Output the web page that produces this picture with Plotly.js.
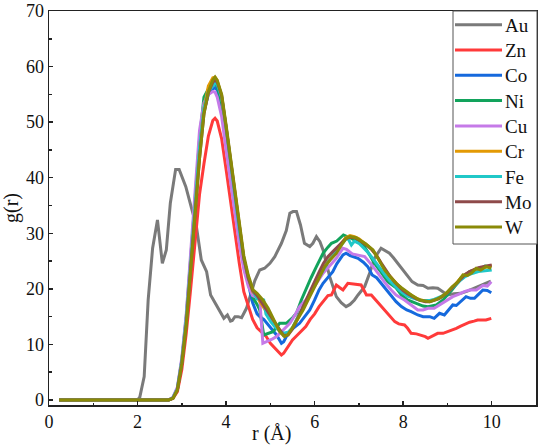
<!DOCTYPE html>
<html>
<head>
<meta charset="utf-8">
<script src="https://cdn.plot.ly/plotly-3.0.1.min.js"></script>
<style>html,body{margin:0;padding:0;background:#fff;}#chart{width:550px;height:446px;}</style>
</head>
<body>
<div id="chart"></div>
<script>
// Series names
const seriesNames = ["Au","Zn","Co","Ni","Cu","Cr","Fe","Mo","W"];

// Au
const r_Au = [0.25,2.0,2.05,2.15,2.24,2.34,2.45,2.56,2.65,2.74,2.86,2.94,3.09,3.22,3.33,3.44,3.56,3.65,3.78,3.87,3.95,4.03,4.1,4.14,4.2,4.27,4.35,4.46,4.55,4.65,4.76,4.87,4.99,5.1,5.25,5.36,5.44,5.51,5.59,5.68,5.77,5.89,5.96,6.04,6.12,6.19,6.34,6.49,6.6,6.71,6.8,6.9,6.98,7.13,7.25,7.35,7.5,7.6,7.69,7.78,7.88,8.0,8.1,8.2,8.33,8.45,8.56,8.67,8.78,8.9,9.0,9.15,9.3,9.45,9.6,9.8,9.98];
const g_Au = [0,0,0.5,4.2,18,27.3,32.4,24.6,27,35.4,41.5,41.5,38.4,34.2,31.2,25.2,23.1,18.9,17.1,16,14.7,15.3,14.2,14.3,15,15,14.8,16.5,19,21.5,23.4,23.7,24.6,25.8,28.2,30.5,33.6,33.9,33.9,31.5,28.2,27.6,28.2,29.4,28.5,27,22.2,18.6,17.5,16.8,17.2,18,18.9,20.4,23,25.5,27.3,26.8,26.4,25.6,24.6,23.3,22.2,21.3,20.7,20.6,20.1,20.2,20.1,19.4,18.9,19.1,19.2,19.6,20.1,20.8,21.4];

// First-peak grid shared by the alloys
const r_peak = [0.23,2.7,2.8,2.9,3.0,3.1,3.2,3.3,3.4,3.5,3.6,3.7,3.75,3.8,3.9,4.0,4.1,4.2,4.3,4.4,4.5];

// Zn
const g_Zn_peak = [0,0,0.3,1.5,5.5,12,20,28.5,37,42.5,47.5,50.3,50.7,50.2,47,41.5,35.5,30,24.5,19.5,17];
const r_Zn_tail = [4.6,4.7,4.8,4.9,5.0,5.1,5.2,5.25,5.3,5.4,5.5,5.6,5.7,5.8,5.9,6.0,6.1,6.2,6.3,6.38,6.49,6.57,6.64,6.75,6.9,7.05,7.17,7.28,7.4,7.5,7.58,7.7,7.81,7.9,8.03,8.1,8.18,8.3,8.41,8.5,8.56,8.7,8.78,8.9,9.0,9.1,9.2,9.3,9.42,9.5,9.6,9.68,9.8,9.87,9.99];
const g_Zn_tail = [14.5,13,12.3,11.5,10.2,9.3,8.5,8.1,8.4,9.5,10.8,11.6,12.4,13.2,14.5,15.5,16.8,17.8,18.8,18.9,20.7,20.2,19.8,21,20.9,20.7,18.9,18.9,17.8,16.9,16.2,15.2,14.1,13.7,13.5,12.9,12,11.9,11.7,11.4,11.1,11.6,12,12,12.3,12.5,12.9,13.3,13.8,14,14.2,14.4,14.4,14.4,14.7];

// Co
const g_Co_peak = [0,0,0.4,2,7,14.5,24.5,35,45,52,55,56,56.2,55.8,53,47.5,41.5,35.5,29.5,24.5,21];
const r_Co_tail = [4.6,4.7,4.76,4.85,4.95,5.05,5.14,5.25,5.3,5.4,5.5,5.66,5.8,5.89,6.0,6.1,6.19,6.3,6.41,6.5,6.64,6.71,6.8,6.98,7.1,7.2,7.3,7.4,7.5,7.6,7.73,7.84,7.96,8.08,8.18,8.33,8.45,8.6,8.7,8.82,8.93,9.12,9.2,9.3,9.42,9.52,9.61,9.7,9.8,9.9,9.99];
const g_Co_tail = [17.5,15.5,15,14.5,13.5,12.5,11.7,10.2,10.5,12,12.8,13.8,15.2,16.2,18,19.8,21,22,23.1,24.5,26.1,26.4,26,25.5,24.8,24,22.5,22,21,20,18.9,17.7,16.8,16.2,15.9,15.3,15,15,14.7,15.6,15.3,17.1,17,17.7,18.6,18.3,18.3,19,19.8,19.7,19.3];

// Ni
const g_Ni_peak = [0,0,0.4,2.1,7.2,15,25.5,36.5,47,54.5,56,56.8,57,56.5,53.5,48,42,36,30,25,21.5];
const r_Ni_tail = [4.6,4.7,4.76,4.85,4.95,5.06,5.21,5.36,5.5,5.59,5.7,5.81,5.92,6.04,6.19,6.3,6.38,6.5,6.65,6.8,6.95,7.1,7.25,7.35,7.5,7.65,7.84,7.96,8.1,8.29,8.45,8.56,8.75,8.9,8.97,9.1,9.27,9.4,9.5,9.61,9.75,9.85,9.99];
const g_Ni_tail = [18.5,17.2,16.2,11.7,12,12.3,13.8,13.8,14.8,15.6,18,20.1,22,24,26.4,27.5,28.2,28.6,29.7,29.2,28.5,27.9,26,24.6,23,21.3,20.2,18.9,18,17.4,16.9,16.8,17.1,18,18.6,19.8,21.5,22.5,23.1,23.4,23.6,24.1,24];

// Cu
const g_Cu_peak = [0,0,0.5,2.3,7.6,15.5,26.5,38,48.5,53.5,55,55.5,55.4,54.5,51,45,39,33.5,28,23.5,20.5];
const r_Cu_tail = [4.6,4.7,4.76,4.83,4.95,5.05,5.14,5.3,5.44,5.55,5.66,5.8,5.89,6.0,6.19,6.35,6.49,6.64,6.72,6.85,7.0,7.13,7.32,7.43,7.6,7.73,7.84,8.03,8.2,8.33,8.45,8.56,8.7,8.85,9.0,9.12,9.25,9.38,9.5,9.65,9.8,9.9,9.99];
const g_Cu_tail = [18.8,18.4,18.2,10.2,10.6,11,11.4,12.6,13.8,15.2,16.8,18,19.2,20.5,22.8,24.3,25.5,27.3,27.1,26.3,26.1,25.8,24,22.8,21,19.8,18.9,18,17,16.2,16.2,16.5,16.5,17.2,18,18.6,19,19.5,19.8,19.8,20.6,20.5,21.3];

// Cr
const g_Cr_peak = [0,0,0.3,1.9,6.8,14,24,34.5,45,52.5,56.5,58,58.1,57.5,54.5,49,43,37,31,25.5,22];
const r_Cr_tail = [4.6,4.7,4.8,4.9,5.0,5.1,5.2,5.3,5.4,5.5,5.6,5.7,5.8,5.9,6.0,6.1,6.2,6.3,6.4,6.5,6.6,6.7,6.8,6.9,7.0,7.1,7.2,7.3,7.4,7.5,7.6,7.7,7.8,7.9,8.0,8.1,8.2,8.3,8.4,8.5,8.6,8.7,8.8,8.9,9.0,9.1,9.2,9.3,9.4,9.5,9.6,9.7,9.8,9.9,10.0];
const g_Cr_tail = [19.5,18.5,17.2,16,15,13.5,12.5,11.8,12,13,14.6,16,17.8,19.4,21,22.4,23.8,25,26,27,28.2,29.2,29.6,29.4,29,28.4,27.8,27,26,24.6,23.3,22.3,21.3,20.5,19.8,19.2,18.8,18.3,18,17.8,17.8,18,18.3,18.8,19.4,20.2,21,22,22.6,23,23.4,23.6,23.8,24,24.2];

// Fe
const g_Fe_peak = [0,0,0.4,2,7,14.5,24.5,35,45.5,52.5,55.5,56.5,57,56.8,54.5,49,42.5,36.5,30.5,25.5,22];
const r_Fe_tail = [4.6,4.7,4.75,4.85,4.9,5.0,5.1,5.2,5.3,5.4,5.5,5.6,5.7,5.8,5.9,6.0,6.1,6.2,6.3,6.4,6.5,6.6,6.7,6.75,6.83,6.9,7.0,7.1,7.2,7.3,7.39,7.5,7.6,7.7,7.8,7.9,8.0,8.1,8.2,8.3,8.4,8.5,8.6,8.7,8.8,8.9,9.0,9.1,9.2,9.3,9.4,9.5,9.6,9.7,9.8,9.9,10.0];
const g_Fe_tail = [19.8,18.2,18.2,18,15.5,14.2,13.2,12.5,12,12.2,13,14.5,16,17.5,19.2,20.8,22.2,23.5,24.8,25.8,26.8,28,28.9,29.1,27.9,28.6,28.2,27.4,26.6,25.6,24.6,23.4,22.4,21.4,20.6,19.8,19.2,18.7,18.4,18.1,17.9,17.9,17.9,18.1,18.4,18.8,19.3,20,20.8,21.6,22.2,22.6,22.9,23.1,23.2,23.3,23.4];

// Mo
const g_Mo_peak = [0,0,0.3,1.8,6.5,13.5,23.5,33.5,43.5,51.5,55.3,57.2,57.6,57.2,54.8,49.2,43.2,37.5,31,25.5,22];
const r_Mo_tail = [4.6,4.7,4.8,4.9,5.0,5.1,5.2,5.3,5.4,5.5,5.6,5.7,5.8,5.9,6.0,6.1,6.2,6.3,6.4,6.5,6.6,6.7,6.8,6.9,7.0,7.1,7.2,7.3,7.4,7.5,7.6,7.7,7.8,7.9,8.0,8.1,8.2,8.3,8.4,8.5,8.6,8.7,8.8,8.9,9.0,9.1,9.2,9.3,9.4,9.5,9.6,9.7,9.8,9.9,10.0];
const g_Mo_tail = [19.7,18.8,17.6,16.4,15.2,13.8,12.6,11.6,11.7,12.8,14.4,16,17.8,19.6,21.4,23,24.6,25.8,26.6,27.4,28.3,29,29.3,29.2,28.8,28.3,27.7,27,26,24.7,23.4,22.3,21.3,20.4,19.7,19.1,18.6,18.2,17.9,17.7,17.7,17.9,18.2,18.7,19.3,20.1,21,21.9,22.6,23.1,23.5,23.8,24,24.2,24.3];

// W
const g_W_peak = [0,0,0.3,1.8,6.5,13.5,23.5,33.5,43.5,51.5,55.5,57.6,58.1,57.5,55,49.5,43.5,38,31.5,26,22.5];
const r_W_tail = [4.61,4.7,4.83,4.95,5.06,5.15,5.21,5.32,5.4,5.47,5.6,5.74,5.85,5.96,6.1,6.23,6.35,6.49,6.6,6.71,6.8,6.94,7.05,7.15,7.32,7.45,7.58,7.7,7.84,7.96,8.1,8.2,8.37,8.5,8.6,8.75,8.85,8.97,9.1,9.23,9.35,9.45,9.55,9.65,9.75,9.87,9.99];
const g_W_tail = [19.8,19.2,18,16.5,14.7,13.2,12.3,11.4,11.8,12.6,14.3,16.2,18,19.8,22,24,25.2,26.4,27.8,29.1,29.4,29.2,28.6,28.1,27,25.3,23.4,22.2,21,20.2,19.3,18.8,18,17.8,17.7,18.1,18.5,19.2,20.3,21.2,22.5,22.4,22.9,23.7,23.4,24,23.7];

const colors = {Au:"#7a7a7a", Zn:"#ff3a3a", Co:"#1569dd", Ni:"#12a35c", Cu:"#c57ae8", Cr:"#e39a05", Fe:"#20c8c8", Mo:"#8e4a4a", W:"#8a8a08"};

const seriesData = {
  Au: [r_Au, g_Au],
  Zn: [r_peak.concat(r_Zn_tail), g_Zn_peak.concat(g_Zn_tail)],
  Co: [r_peak.concat(r_Co_tail), g_Co_peak.concat(g_Co_tail)],
  Ni: [r_peak.concat(r_Ni_tail), g_Ni_peak.concat(g_Ni_tail)],
  Cu: [r_peak.concat(r_Cu_tail), g_Cu_peak.concat(g_Cu_tail)],
  Cr: [r_peak.concat(r_Cr_tail), g_Cr_peak.concat(g_Cr_tail)],
  Fe: [r_peak.concat(r_Fe_tail), g_Fe_peak.concat(g_Fe_tail)],
  Mo: [r_peak.concat(r_Mo_tail), g_Mo_peak.concat(g_Mo_tail)],
  W:  [r_peak.concat(r_W_tail), g_W_peak.concat(g_W_tail)]
};

const traces = seriesNames.map(n => ({
  type: "scatter", mode: "lines", name: n,
  x: seriesData[n][0], y: seriesData[n][1],
  line: {color: colors[n], width: 3}
}));

const font = "'Liberation Serif', 'Times New Roman', Times, serif";

// Plot-area geometry (pixels) used to place the drawn legend box
const L = 49, R = 536, T = 11, B = 405;
const px = v => (v - L) / (R - L);
const py = v => (B - v) / (B - T);

const shapes = [{
  type: "rect", xref: "paper", yref: "paper",
  x0: px(453), x1: px(537), y0: py(244), y1: py(11),
  line: {color: "#555", width: 1}, fillcolor: "#fff", layer: "above"
}];
const annotations = [{
  text: "r (Å)", xref: "paper", yref: "paper",
  x: px(271), y: py(433), xanchor: "center", yanchor: "middle", showarrow: false,
  font: {family: font, size: 20, color: "#111"}
}];
seriesNames.forEach((n, i) => {
  const yc = 24.7 + i * 25.3;
  shapes.push({
    type: "line", xref: "paper", yref: "paper",
    x0: px(455), x1: px(502), y0: py(yc), y1: py(yc),
    line: {color: colors[n], width: 3}, layer: "above"
  });
  annotations.push({
    text: n, xref: "paper", yref: "paper",
    x: px(503), y: py(yc + 0.5), xanchor: "left", yanchor: "middle", showarrow: false,
    font: {family: font, size: 19, color: "#111"}
  });
});

const layout = {
  width: 550, height: 446,
  margin: {l: 49, r: 14, t: 11, b: 41},
  paper_bgcolor: "#fff", plot_bgcolor: "#fff",
  font: {family: font, size: 18, color: "#111"},
  showlegend: false,
  xaxis: {
    range: [0, 11], dtick: 2, tick0: 0,
    ticks: "inside", ticklen: 4, tickwidth: 1.5, tickcolor: "#222",
    minor: {dtick: 1, ticks: "inside", ticklen: 2.5, tickwidth: 1.5, tickcolor: "#222"},
    showline: true, linecolor: "#222", linewidth: 1.5, mirror: true,
    showgrid: false, zeroline: false,
    tickfont: {family: font, size: 18, color: "#111"}
  },
  yaxis: {
    range: [-0.9, 70], dtick: 10, tick0: 0,
    ticks: "inside", ticklen: 4, tickwidth: 1.5, tickcolor: "#222",
    minor: {dtick: 5, ticks: "inside", ticklen: 2.5, tickwidth: 1.5, tickcolor: "#222"},
    showline: true, linecolor: "#222", linewidth: 1.5, mirror: true,
    showgrid: false, zeroline: false,
    tickfont: {family: font, size: 18, color: "#111"},
    title: {text: "g(r)", font: {family: font, size: 20, color: "#111"}, standoff: 4}
  },
  shapes: shapes,
  annotations: annotations
};

Plotly.newPlot("chart", traces, layout, {displayModeBar: false, staticPlot: true});
</script>
</body>
</html>
